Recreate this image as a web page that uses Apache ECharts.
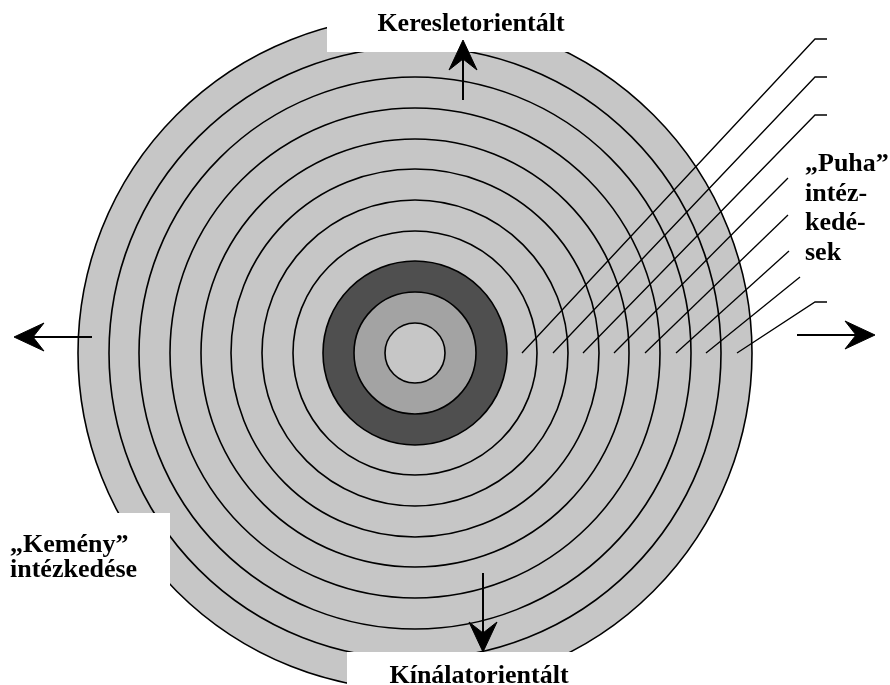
<!DOCTYPE html>
<html><head><meta charset="utf-8">
<script src="https://cdn.jsdelivr.net/npm/echarts@6/dist/echarts.min.js"></script>
<style>html,body{margin:0;padding:0;background:#fff}#c{width:890px;height:685px}</style>
</head><body><div id="c"></div>
<script>
// ---- Diagram values (diagram units, centre of the rings = 0,0, y up) ----
const ringRadii = [30, 61, 92, 122, 153, 184, 214, 245, 276, 306, 337];
// "Puha" measure lines: start on the horizontal axis mid-band, end up-right
const softStartX = [107, 138, 168, 199, 230, 261, 291, 322];
const softEndX   = [400, 400, 400, 373, 373, 374, 385, 400];
const softEndY   = [314, 276, 238, 175, 138, 102, 76, 51];
const softTick   = [12, 12, 12, 0, 0, 0, 0, 12];
// Direction arrows: tail -> head
const arrowFromX = [48, 68, -323, 382];
const arrowFromY = [253, -220, 16, 18];
const arrowToX   = [48, 68, -401, 460];
const arrowToY   = [313, -299, 16, 18];
// White text panels cut out of the disc: x0, y0, x1, y1
const panelX0 = [-88, -68, -415];
const panelY0 = [301, -332, -332];
const panelX1 = [165, 185, -245];
const panelY1 = [353, -299, -160];
// Labels
const labelTexts = ['Keresletorientált', 'Kínálatorientált', '„Kemény”', 'intézkedése', '„Puha”', 'intéz-', 'kedé-', 'sek'];
const labelX = [56, 64, -405, -405, 390, 390, 390, 390];
const labelY = [329, -323, -192, -217, 189, 159, 130, 100];
const labelAnchor = ['center', 'center', 'left', 'left', 'left', 'left', 'left', 'left'];

// ---- styles ----
const ringFill = ['#c6c6c6', '#a3a3a3', '#4f4f4f'];
const baseFill = '#c6c6c6';
const FONT = 'bold 26px "Liberation Serif", "Times New Roman", serif';

const chart = echarts.init(document.getElementById('c'), null, {renderer: 'canvas'});

const ringData = ringRadii.map((r, i) => [0, 0, r, i]).reverse();

chart.setOption({
  animation: false,
  backgroundColor: '#ffffff',
  grid: {left: 0, right: 0, top: 0, bottom: 0, containLabel: false},
  xAxis: {type: 'value', min: -415, max: 475, show: false},
  yAxis: {type: 'value', min: -332, max: 353, show: false},
  series: [
    {
      type: 'custom', coordinateSystem: 'cartesian2d', z: 1, clip: false,
      data: ringData,
      renderItem: function (params, api) {
        const c = api.coord([api.value(0), api.value(1)]);
        const r = api.size([api.value(2), 0])[0];
        const idx = api.value(3);
        return {
          type: 'circle',
          shape: {cx: c[0], cy: c[1], r: r},
          style: {fill: idx < ringFill.length ? ringFill[idx] : baseFill, stroke: '#000', lineWidth: 1.6}
        };
      }
    },
    {
      type: 'custom', coordinateSystem: 'cartesian2d', z: 2, clip: false,
      data: panelX0.map((x, i) => [x, panelY0[i], panelX1[i], panelY1[i]]),
      renderItem: function (params, api) {
        const a = api.coord([api.value(0), api.value(3)]);
        const b = api.coord([api.value(2), api.value(1)]);
        return {
          type: 'rect',
          shape: {x: a[0], y: a[1], width: b[0] - a[0], height: b[1] - a[1]},
          style: {fill: '#ffffff', stroke: null}
        };
      }
    },
    {
      type: 'custom', coordinateSystem: 'cartesian2d', z: 3, clip: false,
      data: softStartX.map((x, i) => [x, 0, softEndX[i], softEndY[i], softTick[i]]),
      renderItem: function (params, api) {
        const p0 = api.coord([api.value(0), api.value(1)]);
        const p1 = api.coord([api.value(2), api.value(3)]);
        const pts = [p0, p1];
        const t = api.value(4);
        if (t > 0) pts.push(api.coord([api.value(2) + t, api.value(3)]));
        return {
          type: 'polyline',
          shape: {points: pts},
          style: {stroke: '#000', lineWidth: 1.3, fill: null}
        };
      }
    },
    {
      type: 'custom', coordinateSystem: 'cartesian2d', z: 4, clip: false,
      data: arrowFromX.map((x, i) => [x, arrowFromY[i], arrowToX[i], arrowToY[i]]),
      renderItem: function (params, api) {
        const p0 = api.coord([api.value(0), api.value(1)]);
        const p1 = api.coord([api.value(2), api.value(3)]);
        let dx = p1[0] - p0[0], dy = p1[1] - p0[1];
        const len = Math.sqrt(dx * dx + dy * dy);
        dx /= len; dy /= len;
        const nx = -dy, ny = dx;
        const L = 30, W = 14, N = 19;
        const base = [p1[0] - dx * L, p1[1] - dy * L];
        const notch = [p1[0] - dx * N, p1[1] - dy * N];
        return {
          type: 'group',
          children: [
            {type: 'line', shape: {x1: p0[0], y1: p0[1], x2: notch[0], y2: notch[1]},
             style: {stroke: '#000', lineWidth: 2}},
            {type: 'polygon', shape: {points: [p1, [base[0] + nx * W, base[1] + ny * W], notch, [base[0] - nx * W, base[1] - ny * W]]},
             style: {fill: '#000', stroke: '#000', lineWidth: 1}}
          ]
        };
      }
    },
    {
      type: 'custom', coordinateSystem: 'cartesian2d', z: 5, clip: false,
      data: labelX.map((x, i) => [x, labelY[i]]),
      renderItem: function (params, api) {
        const p = api.coord([api.value(0), api.value(1)]);
        const i = params.dataIndex;
        return {
          type: 'text', x: p[0], y: p[1],
          style: {text: labelTexts[i], font: FONT, fill: '#000', align: labelAnchor[i], verticalAlign: 'middle'}
        };
      }
    }
  ]
});
</script>
</body></html>
